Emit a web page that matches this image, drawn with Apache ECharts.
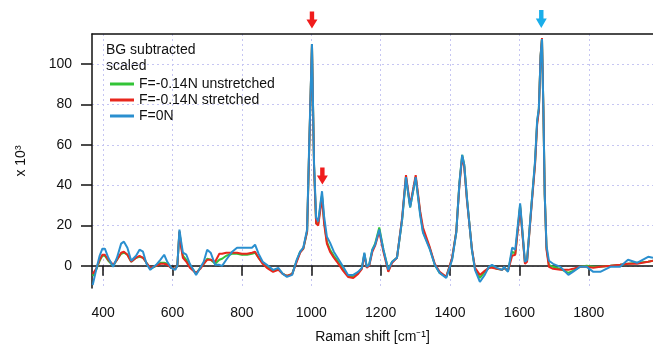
<!DOCTYPE html>
<html>
<head>
<meta charset="utf-8">
<script src="https://cdn.jsdelivr.net/npm/echarts@6/dist/echarts.min.js"></script>
<style>
  html, body { margin: 0; padding: 0; background: #fff; }
  #chart { width: 653px; height: 349px; }
</style>
</head>
<body>
<div id="chart"></div>
<script>
// Raman shift [cm-1]
var ramanShift = [
    370, 380, 390, 398, 405, 415, 429, 440, 452, 460, 470, 481, 495, 505, 515, 525, 536, 553, 565, 576,
    585, 596, 608, 614, 620, 625, 630, 640, 650, 660, 668, 680, 690, 700, 710, 723, 735, 743, 755, 772,
    786, 800, 815, 829, 838, 848, 860, 872, 890, 905, 918, 930, 945, 958, 968, 977, 988, 994, 1002, 1008,
    1014, 1020, 1028, 1031, 1037, 1045, 1054, 1065, 1074, 1092, 1106, 1121, 1135, 1146, 1153, 1160, 1167, 1176, 1184, 1196,
    1208, 1222, 1233, 1247, 1262, 1273, 1285, 1301, 1314, 1322, 1342, 1356, 1370, 1389, 1406, 1418, 1427, 1435, 1441, 1449,
    1463, 1472, 1486, 1500, 1512, 1521, 1535, 1550, 1556, 1567, 1579, 1588, 1602, 1616, 1622, 1636, 1645, 1651, 1656, 1661,
    1665, 1669, 1673, 1678, 1685, 1697, 1718, 1741, 1754, 1774, 1794, 1813, 1833, 1862, 1890, 1913, 1939, 1971, 1985
];

// F=-0.14N unstretched (x 10^3)
var unstretched = [
    -5, -2, 2.5, 5, 5, 2.5, 0, 3, 6, 6.5, 5.5, 2, 4, 4.5, 4, 1.5, -1.5, 0, 1.5, 1.5,
    1, -1, -1.5, 0, 17, 10, 5, 3, -0.5, -2, -4, -1, 1, 3.5, 3, 1, 3, 3.5, 5, 6,
    6, 5.5, 5.5, 6, 6.5, 4, 1.5, -0.5, -2.5, -1.5, -4, -5, -4, 2.5, 7, 8.5, 17, 58, 110, 50,
    21, 21, 32, 35, 22, 12, 8, 5, 3, -2, -5, -5, -3.5, -1, 6, -0.5, 0.5, 8, 11, 19,
    8, -2, 2, 4, 23, 44, 29, 44, 26, 17, 8.5, 0.5, -3.5, -5.5, 3.5, 17, 41, 55, 50, 33,
    8, -1.5, -6, -3, -1, -0.5, -1.5, -2, -1, -2.5, 7, 6, 30, 1.5, 2.5, 33, 51, 71, 78, 104,
    113, 78, 35, 9, 0.5, -0.5, -1.5, -3.5, -2.5, -0.5, 0, -0.5, -0.5, 0, 0.5, 1, 1.5, 2, 2.5
];

// F=-0.14N stretched (x 10^3)
var stretched = [
    -4, -1.5, 3, 5.5, 5.5, 3, 0.5, 3, 6.5, 7, 5.5, 2, 4, 5, 4, 1.5, -1, 0, 1, 1,
    0.5, -1, -1.5, 0, 17, 9, 4, 2, -1, -2.5, -3.5, -1.5, 1, 3, 3, 2, 6, 6, 6.5, 6.5,
    6.5, 6, 6, 6.5, 7, 4, 1, -1, -3, -2, -4, -5, -4, 2, 6.5, 8.5, 17, 58, 110, 49,
    21, 20, 30, 34, 21, 11, 7, 4, 2, -2.5, -5.5, -6, -4, -1.5, 5.5, -1, 0, 7, 10, 17,
    7, -3, 1.5, 4, 24, 45, 30, 45, 27, 19, 9, 1, -3, -5.5, 4, 17, 40, 54, 49, 32,
    8.5, -1, -4.5, -2.5, -1, -1, -1.5, -2, -1, -2.5, 5, 5.5, 29, 1, 2, 32, 50, 70, 77, 104,
    113, 78, 35, 8, -0.5, -1.5, -2, -2, -1.5, -0.5, -0.5, -1, -0.5, 0, 0.5, 1, 1, 2, 2.5
];

// F=0N (x 10^3)
var zeroForce = [
    -9.5, -2, 5, 8.5, 8.5, 4, -0.5, 4, 11, 12, 9, 2.5, 5, 8, 7, 1, -2, 0.5, 3, 5.5,
    2, -1, -2, 0, 18, 12, 6.5, 5.5, 1, -2, -4.5, -1, 2, 8, 6.5, 0.5, 0.5, 0, 3, 7,
    9, 9, 9, 9, 10.5, 6, 2, 0.5, -2, -1, -4, -5.5, -4.5, 3, 7, 9, 18, 60, 110, 51,
    24, 22, 33, 37, 24.5, 14.5, 11.5, 7, 4.5, -0.5, -4.5, -4.5, -3, -1, 6.5, -0.5, 0.5, 8, 10.5, 18,
    8, -2, 2, 4, 23, 44, 29, 44, 25, 16.5, 8, 0.5, -3.5, -6, 3, 16.5, 41, 55, 50, 33,
    8, -2, -8, -4.5, -0.5, 0.5, -1, -2, -0.5, -3, 9, 8, 31, 2, 3, 33, 52, 72, 78, 104,
    112.5, 78, 35, 10, 2.5, 1, -0.5, -4.5, -3, -0.5, -0.5, -3, -3, -0.5, -0.5, 3, 1.5, 4.5, 4
];

var seriesNames = ['F=-0.14N unstretched', 'F=-0.14N stretched', 'F=0N'];
var xTicks = [400, 600, 800, 1000, 1200, 1400, 1600, 1800];
var yTicks = [0, 20, 40, 60, 80, 100];

window.addEventListener('load', function() {
    var chart = echarts.init(document.getElementById('chart'));

    function pairs(values) {
        var out = [];
        for (var i = 0; i < ramanShift.length; i++) {
            out.push([ramanShift[i], values[i]]);
        }
        return out;
    }

    var font = 'Liberation Sans, Arial, sans-serif';
    var gridLine = { show: true, lineStyle: { color: '#c6c6f2', type: [2, 3], width: 1 } };
    var arrowDown = 'path://M3,0 L7,0 L7,8 L10,8 L5,17 L0,8 L3,8 Z';

    chart.setOption({
        animation: false,
        textStyle: { fontFamily: font },
        grid: { left: 92, right: 0, top: 34, bottom: 61 },
        legend: {
            data: seriesNames,
            orient: 'vertical',
            left: 105,
            top: 72,
            itemWidth: 24,
            itemHeight: 3,
            itemGap: 2,
            icon: 'rect',
            textStyle: { fontSize: 14, color: '#111', fontFamily: font }
        },
        graphic: [
            { type: 'text', left: 106, top: 43, style: { text: 'BG subtracted', fill: '#111', font: '14px ' + font } },
            { type: 'text', left: 106, top: 59, style: { text: 'scaled', fill: '#111', font: '14px ' + font } }
        ],
        xAxis: [{
            type: 'value',
            min: 368,
            max: 1985,
            name: 'Raman shift [cm⁻¹]',
            nameLocation: 'middle',
            nameGap: 42,
            nameTextStyle: { fontSize: 14, color: '#111' },
            axisLine: { show: true, lineStyle: { color: '#111', width: 1.5 } },
            axisTick: { show: true, length: 10, customValues: xTicks, lineStyle: { color: '#111', width: 1.5 } },
            axisLabel: {
                customValues: xTicks,
                fontSize: 14,
                color: '#111',
                margin: 18,
                formatter: function(v) { return String(v); }
            },
            splitLine: gridLine
        }, {
            type: 'value',
            position: 'top',
            min: 368,
            max: 1985,
            axisLine: { show: true, lineStyle: { color: '#111', width: 1.5 } },
            axisTick: { show: false },
            axisLabel: { show: false },
            splitLine: { show: false }
        }],
        yAxis: {
            type: 'value',
            min: -11,
            max: 115,
            name: 'x 10³',
            nameLocation: 'middle',
            nameRotate: 90,
            nameGap: 64,
            nameTextStyle: { fontSize: 14, color: '#111' },
            axisLine: { show: true, lineStyle: { color: '#111', width: 1.5 } },
            axisTick: { show: true, length: 11, customValues: yTicks, lineStyle: { color: '#111', width: 1.5 } },
            axisLabel: { customValues: yTicks, fontSize: 14, color: '#111', margin: 20 },
            splitLine: gridLine
        },
        series: [{
            name: seriesNames[0],
            type: 'line',
            showSymbol: false,
            color: '#33c437',
            lineStyle: { width: 2 },
            data: pairs(unstretched)
        }, {
            name: seriesNames[1],
            type: 'line',
            showSymbol: false,
            color: '#e8271d',
            lineStyle: { width: 2 },
            data: pairs(stretched),
            markPoint: {
                symbol: arrowDown,
                symbolSize: [11, 17],
                label: { show: false },
                itemStyle: { color: '#f01c1c' },
                data: [
                    { coord: [1002, 110], symbolOffset: [0, -24] },
                    { coord: [1032, 44.5] }
                ]
            }
        }, {
            name: seriesNames[2],
            type: 'line',
            showSymbol: false,
            color: '#2a8fcf',
            lineStyle: { width: 2 },
            data: pairs(zeroForce),
            markPoint: {
                symbol: arrowDown,
                symbolSize: [11, 18],
                label: { show: false },
                itemStyle: { color: '#1aaeea' },
                data: [{ coord: [1663, 112.5], symbolOffset: [0, -20] }]
            }
        }]
    });
});
</script>
</body>
</html>
